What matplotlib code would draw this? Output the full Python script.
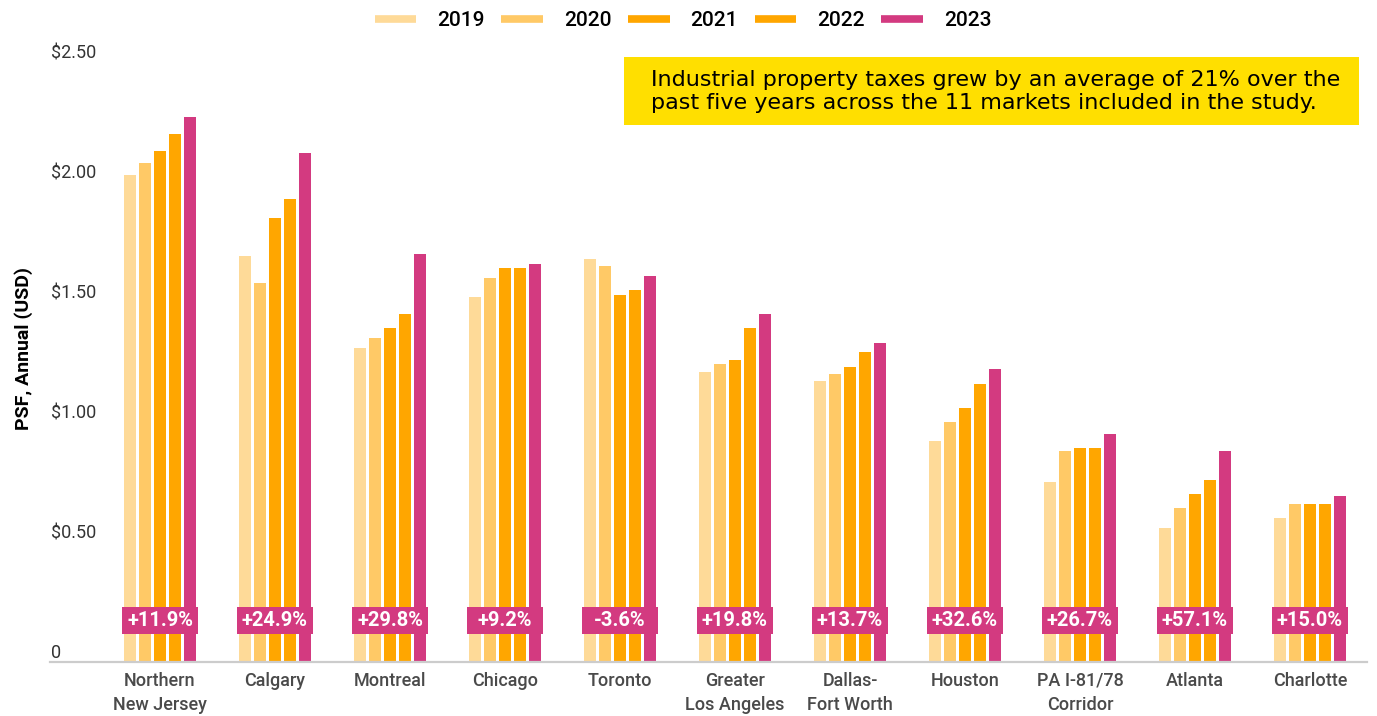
import matplotlib
matplotlib.use('Agg')
import matplotlib.pyplot as plt
from matplotlib.patches import Rectangle
from matplotlib.lines import Line2D
import numpy as np

plt.rcParams['font.family'] = ['Roboto', 'DejaVu Sans']

# markets and annual PSF property tax (USD)
markets = ['Northern\nNew Jersey', 'Calgary', 'Montreal', 'Chicago', 'Toronto',
           'Greater\nLos Angeles', 'Dallas-\nFort Worth', 'Houston',
           'PA I-81/78\nCorridor', 'Atlanta', 'Charlotte']
years = ['2019', '2020', '2021', '2022', '2023']
v2019 = [2.03, 1.69, 1.31, 1.52, 1.68, 1.21, 1.17, 0.92, 0.75, 0.56, 0.60]
v2020 = [2.08, 1.58, 1.35, 1.60, 1.65, 1.24, 1.20, 1.00, 0.88, 0.64, 0.66]
v2021 = [2.13, 1.85, 1.39, 1.64, 1.53, 1.26, 1.23, 1.06, 0.89, 0.70, 0.66]
v2022 = [2.20, 1.93, 1.45, 1.64, 1.55, 1.39, 1.29, 1.16, 0.89, 0.76, 0.66]
v2023 = [2.27, 2.12, 1.70, 1.66, 1.61, 1.45, 1.33, 1.22, 0.95, 0.88, 0.69]
changes = ['+11.9%', '+24.9%', '+29.8%', '+9.2%', '-3.6%', '+19.8%',
           '+13.7%', '+32.6%', '+26.7%', '+57.1%', '+15.0%']
yticks = [0, 0.5, 1.0, 1.5, 2.0, 2.5]
ytick_labels = ['0', '$0.50', '$1.00', '$1.50', '$2.00', '$2.50']

series = [v2019, v2020, v2021, v2022, v2023]
colors = ['#FEDA98', '#FFC966', '#FFA600', '#FFA600', '#D33A80']
magenta = '#D33A80'

W, H = 1377, 716
fig = plt.figure(figsize=(W / 100, H / 100), dpi=100)
ax = fig.add_axes([50 / W, 1 - 662 / H, 1317 / W, 600 / H])

x = np.arange(len(markets))
step = 15 / 115
bw = 12 / 115
for k, (vals, c) in enumerate(zip(series, colors)):
    ax.bar(x + (k - 2) * step, vals, width=bw, color=c, label=years[k], zorder=2)

ax.set_xlim(-110 / 115, 1207 / 115)
ax.set_ylim(0, 2.5)

# change labels on magenta boxes near the base
box_w = 76 / 115
for i, txt in enumerate(changes):
    ax.add_patch(Rectangle((i - box_w / 2, 0.117), box_w, 0.1125,
                           facecolor=magenta, edgecolor='none', zorder=3))
    ax.text(i, 0.117 + 0.1125 / 2, txt, ha='center', va='center', color='white',
            fontsize=14.5, fontweight='bold', zorder=4)

# axes styling
for s in ['top', 'right', 'left']:
    ax.spines[s].set_visible(False)
ax.spines['bottom'].set_color('#CCCCCC')
ax.spines['bottom'].set_linewidth(1.6)
ax.set_xticks(x)
ax.set_xticklabels(markets, fontsize=13, fontweight='medium', color='#4A4A4A',
                   linespacing=1.45)
ax.tick_params(axis='x', length=0, pad=7)
ax.set_yticks(yticks)
ax.set_yticklabels(ytick_labels, fontsize=13, color='#333333')
for lbl in ax.get_yticklabels():
    lbl.set_ha('left')
    lbl.set_va('bottom')
ax.tick_params(axis='y', length=0, pad=-1)

fig.text(24 / W, 1 - 349 / H, 'PSF, Annual (USD)', rotation=90, ha='center',
         va='center', fontsize=14, fontweight='bold', color='black')

# legend
handles = [Line2D([0], [0], color=c, lw=5.5, solid_capstyle='butt') for c in colors]
fig.legend(handles, years, loc='center', bbox_to_anchor=(683 / W, 1 - 21 / H),
           ncol=5, frameon=False, handlelength=2.0,
           handletextpad=1.0, columnspacing=0.8,
           prop={'size': 15, 'weight': 'medium'})

# yellow callout
fig.patches.append(Rectangle((624 / W, 1 - 125 / H), 735 / W, 68 / H,
                             transform=fig.transFigure, facecolor='#FFDF00',
                             edgecolor='none', zorder=0))
fig.text(651 / W, 1 - 91.5 / H,
         'Industrial property taxes grew by an average of 21% over the\n'
         'past five years across the 11 markets included in the study.',
         ha='left', va='center', fontsize=16, color='black',
         family=['DejaVu Sans'], linespacing=1.15)

fig.savefig('out.png', dpi=100)
